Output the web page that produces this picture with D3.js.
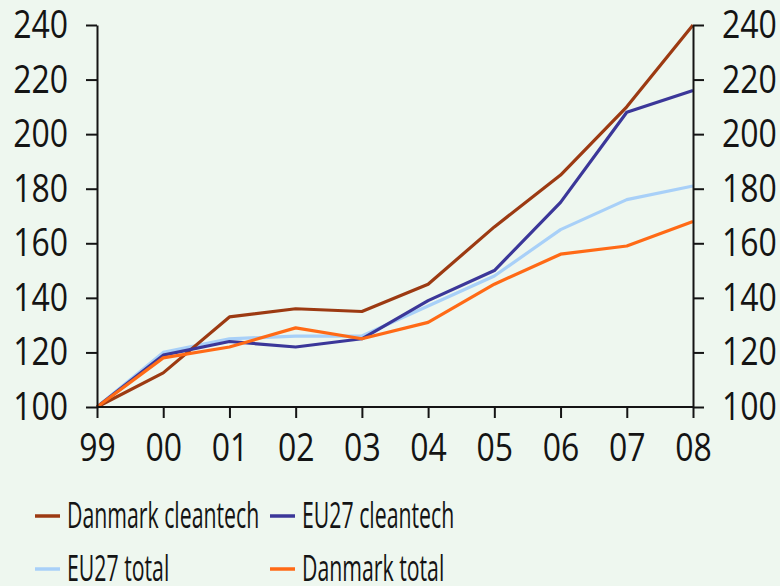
<!DOCTYPE html>
<html lang="da">
<head>
<meta charset="UTF-8">
<title>Cleantech eksport indeks</title>
<script src="https://d3js.org/d3.v7.min.js"></script>
<style>
    html, body { margin: 0; padding: 0; background: #eef7ef; }
    svg { display: block; }
    text { font-family: "Open Sans", sans-serif; fill: #141414; }
</style>
</head>
<body>
<div id="chart"></div>
<script>
    // Data
    const years = ["99", "00", "01", "02", "03", "04", "05", "06", "07", "08"];
    const dkCleantech = [100, 112.5, 133, 136, 135, 145, 166, 185, 210, 240];
    const euCleantech = [100, 119, 124, 122, 125, 139, 150, 175, 208, 216];
    const euTotal = [100, 120, 125, 126, 126, 137, 148, 165, 176, 181];
    const dkTotal = [100, 118, 122, 129, 125, 131, 145, 156, 159, 168];
    const yTicks = [100, 120, 140, 160, 180, 200, 220, 240];

    const series = [
        {name: "EU27 total", values: euTotal, color: "#a8d0f8"},
        {name: "Danmark cleantech", values: dkCleantech, color: "#9c3a12"},
        {name: "EU27 cleantech", values: euCleantech, color: "#3b3799"},
        {name: "Danmark total", values: dkTotal, color: "#ff6a16"}
    ];
    // legend order as in the picture
    const legendItems = [
        {name: "Danmark cleantech", color: "#9c3a12", col: 0, row: 0},
        {name: "EU27 cleantech", color: "#3b3799", col: 1, row: 0},
        {name: "EU27 total", color: "#a8d0f8", col: 0, row: 1},
        {name: "Danmark total", color: "#ff6a16", col: 1, row: 1}
    ];

    const width = 780, height = 586;
    const margin = {top: 25, right: 87, bottom: 179, left: 97};

    const svg = d3.select("#chart").append("svg")
        .attr("width", width)
        .attr("height", height);

    const x = d3.scalePoint().domain(years).range([margin.left, width - margin.right]);
    const y = d3.scaleLinear().domain([100, 240]).range([height - margin.bottom, margin.top]);

    // the original uses a condensed face; squeeze text horizontally
    function squeeze(sel, k) {
        sel.each(function () {
            const t = d3.select(this);
            const x0 = +t.attr("x") || 0;
            t.attr("x", x0 / k).attr("transform", `scale(${k},1)`);
        });
    }

    // Lines
    const line = d3.line()
        .x((d, i) => x(years[i]))
        .y(d => y(d));

    svg.append("g")
        .selectAll("path")
        .data(series)
        .join("path")
        .attr("d", d => line(d.values))
        .attr("fill", "none")
        .attr("stroke", d => d.color)
        .attr("stroke-width", 3.2)
        .attr("stroke-linejoin", "round");

    // Axes
    const axisFont = 39;

    const left = svg.append("g")
        .attr("transform", `translate(${margin.left},0)`)
        .call(d3.axisLeft(y).tickValues(yTicks).tickSize(11).tickPadding(18).tickSizeOuter(0));

    const right = svg.append("g")
        .attr("transform", `translate(${width - margin.right},0)`)
        .call(d3.axisRight(y).tickValues(yTicks).tickSize(11).tickPadding(18).tickSizeOuter(0));

    const bottom = svg.append("g")
        .attr("transform", `translate(0,${height - margin.bottom})`)
        .call(d3.axisBottom(x).tickSize(11).tickPadding(15).tickSizeOuter(0));

    [left, right, bottom].forEach(g => {
        g.select(".domain").attr("stroke", "#141414").attr("stroke-width", 2);
        g.selectAll(".tick line").attr("stroke", "#141414").attr("stroke-width", 2);
        g.selectAll(".tick text")
            .attr("font-size", axisFont)
            .attr("font-family", null)
            .attr("fill", "#141414")
            .call(squeeze, 0.82);
    });
    bottom.select(".domain").attr("d", `M${margin.left},0H${width - margin.right}`);

    // Legend
    const legend = svg.append("g");
    const colX = [35, 270], rowY = [516, 569];
    const item = legend.selectAll("g")
        .data(legendItems)
        .join("g")
        .attr("transform", d => `translate(${colX[d.col]},${rowY[d.row]})`);

    item.append("line")
        .attr("x1", 0).attr("x2", 25)
        .attr("stroke", d => d.color)
        .attr("stroke-width", 3.5);

    item.append("text")
        .attr("x", 32)
        .attr("y", 12)
        .attr("font-size", 37)
        .text(d => d.name)
        .call(squeeze, 0.575);
</script>
</body>
</html>
